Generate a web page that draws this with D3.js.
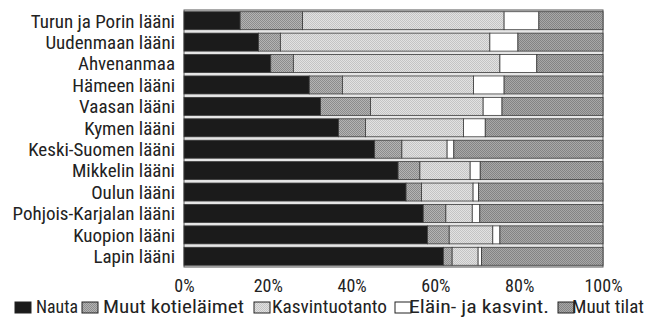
<!DOCTYPE html>
<html>
<head>
<meta charset="utf-8">
<script src="https://cdn.jsdelivr.net/npm/d3@7"></script>
<style>
  body { margin: 0; background: #fff; }
  text { font-family: "Liberation Sans Narrow", "Roboto Condensed", "Liberation Sans", sans-serif; fill: #222; }
</style>
</head>
<body>
<svg width="646" height="324"></svg>
<script>
var width = 646;
var height = 324;

// regions, top to bottom
var regions = [
  "Turun ja Porin lääni", "Uudenmaan lääni", "Ahvenanmaa", "Hämeen lääni",
  "Vaasan lääni", "Kymen lääni", "Keski-Suomen lääni", "Mikkelin lääni",
  "Oulun lääni", "Pohjois-Karjalan lääni", "Kuopion lääni", "Lapin lääni"
];

var seriesNames = ["Nauta", "Muut kotieläimet", "Kasvintuotanto", "Eläin- ja kasvint.", "Muut tilat"];

// shares (%) per region, in series order
var nauta        = [13.4, 17.8, 20.7, 29.9, 32.6, 36.9, 45.5, 51.1, 53.0, 57.1, 58.1, 61.9];
var muutKotiel   = [14.9,  5.2,  5.4,  7.9, 11.9,  6.4,  6.5,  5.2,  3.7,  5.4,  5.2,  2.1];
var kasvintuot   = [48.1, 50.0, 49.3, 31.3, 26.9, 23.4, 10.8, 12.0, 12.3,  6.3, 10.4,  6.2];
var elainKasv    = [ 8.3,  6.7,  8.8,  7.3,  4.5,  5.2,  1.6,  2.4,  1.3,  1.8,  1.7,  0.8];
var muutTilat    = [15.3, 20.3, 15.8, 23.6, 24.1, 28.1, 35.6, 29.3, 29.7, 29.4, 24.6, 29.0];

var tickValues = [0, 20, 40, 60, 80, 100];

var table = regions.map(function(r, i) {
  return { region: r, s0: nauta[i], s1: muutKotiel[i], s2: kasvintuot[i], s3: elainKasv[i], s4: muutTilat[i] };
});

var svg = d3.select("svg");
var defs = svg.append("defs");

// halftone-ish checker patterns
function checker(id, a, b) {
  var p = defs.append("pattern").attr("id", id)
    .attr("width", 2).attr("height", 2).attr("patternUnits", "userSpaceOnUse");
  p.append("rect").attr("width", 2).attr("height", 2).attr("fill", a);
  p.append("rect").attr("width", 1).attr("height", 1).attr("fill", b);
  p.append("rect").attr("x", 1).attr("y", 1).attr("width", 1).attr("height", 1).attr("fill", b);
}
checker("pKot", "#b4b4b4", "#8c8c8c");
checker("pKasv", "#e2e2e2", "#c4c4c4");
checker("pTilat", "#a8a8a8", "#848484");

var fills = ["#1b1b1b", "url(#pKot)", "url(#pKasv)", "#ffffff", "url(#pTilat)"];
var keys = ["s0", "s1", "s2", "s3", "s4"];

var margin = { left: 184, right: 43, top: 10, bottom: 57 };

var x = d3.scaleLinear().domain([0, 100]).range([margin.left, width - margin.right]);
var y = d3.scaleBand().domain(regions).range([margin.top, height - margin.bottom]).paddingInner(0.16).paddingOuter(0.08);

var stack = d3.stack().keys(keys);
var stacked = stack(table);

// plot background (gaps between bars)
svg.append("rect")
  .attr("x", x(0)).attr("y", margin.top)
  .attr("width", x(100) - x(0)).attr("height", height - margin.bottom - margin.top)
  .attr("fill", "#e6e6e6").attr("stroke", "#555").attr("stroke-width", 1);

svg.append("g")
  .selectAll("g")
  .data(stacked)
  .enter()
  .append("g")
    .attr("fill", function(d, i) { return fills[i]; })
  .selectAll("rect")
  .data(function(d) { return d; })
  .enter()
  .append("rect")
    .attr("x", function(d) { return x(d[0]); })
    .attr("y", function(d) { return y(d.data.region); })
    .attr("width", function(d) { return x(d[1]) - x(d[0]); })
    .attr("height", y.bandwidth())
    .attr("stroke", "#3a3a3a")
    .attr("stroke-width", 0.8);

// category labels
svg.append("g")
  .selectAll("text")
  .data(regions)
  .enter()
  .append("text")
    .attr("x", x(0) - 9)
    .attr("y", function(d) { return y(d) + y.bandwidth() / 2; })
    .attr("dy", "0.36em")
    .attr("text-anchor", "end")
    .attr("font-size", 19)
    .text(function(d) { return d; });

// x axis labels
var xAxis = d3.axisBottom(x).tickValues(tickValues).tickSize(0).tickFormat(function(d) { return d + "%"; });
var gx = svg.append("g")
  .attr("transform", "translate(0," + (height - margin.bottom) + ")")
  .call(xAxis);
gx.select(".domain").remove();
gx.selectAll("text")
  .attr("y", 25)
  .attr("dy", 0)
  .attr("font-size", 18)
  .style("font-family", '"Liberation Sans Narrow", "Roboto Condensed", "Liberation Sans", sans-serif')
  .attr("fill", "#222");

// legend: swatch x, text x, text width
var legendSwatchX = [15, 82, 254, 395, 558];
var legendTextX = [36, 103, 272, 409, 572];
var legendTextW = [42, 141, 115, 140, 72];

var legend = svg.append("g")
  .selectAll("g")
  .data(seriesNames)
  .enter()
  .append("g");

legend.append("rect")
  .attr("x", function(d, i) { return legendSwatchX[i]; })
  .attr("y", 302)
  .attr("width", 16).attr("height", 11)
  .attr("fill", function(d, i) { return fills[i]; })
  .attr("stroke", "#222").attr("stroke-width", 1);

legend.append("text")
  .attr("x", function(d, i) { return legendTextX[i]; })
  .attr("y", 313)
  .attr("font-size", 18.5)
  .attr("textLength", function(d, i) { return legendTextW[i]; })
  .attr("lengthAdjust", "spacingAndGlyphs")
  .text(function(d) { return d; });
</script>
</body>
</html>
